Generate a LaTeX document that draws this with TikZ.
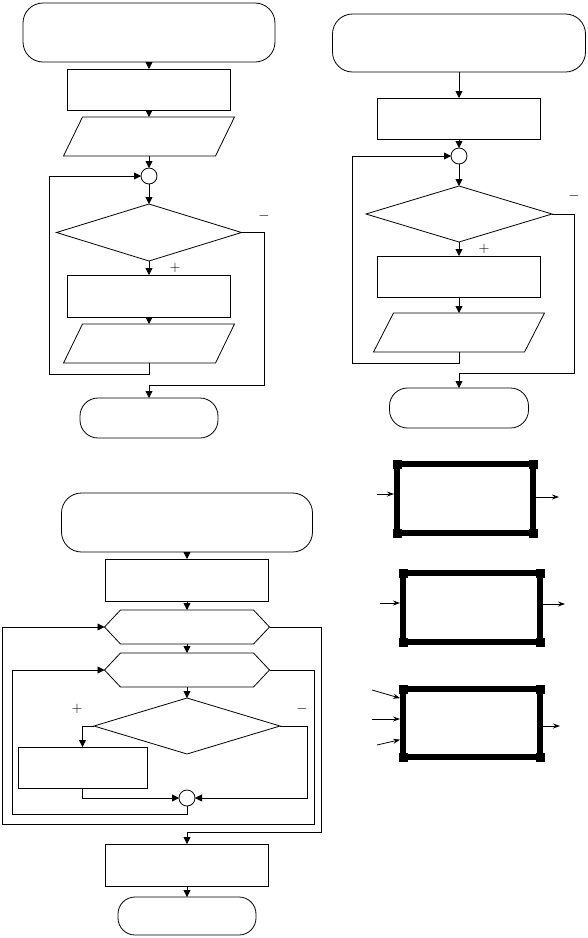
\documentclass[tikz,border=0pt]{standalone}
\usetikzlibrary{arrows.meta,shapes.geometric}
\begin{document}
\begin{tikzpicture}[x=1pt,y=-1pt,
 ln/.style={line width=0.8pt},
 arr/.style={ln,-{Triangle[length=7pt,width=7pt]}},
 sarr/.style={ln,-{Stealth[length=7pt,width=5pt]}},
 box/.style={draw,ln,rectangle,inner sep=0pt,outer sep=0pt},
 term/.style={box,rounded corners=#1},
 term/.default=20pt,
 dia/.style={draw,ln,diamond,inner sep=0pt,outer sep=0pt},
 jn/.style={draw,ln,circle,minimum size=16pt,inner sep=0pt,outer sep=0pt},
 ghost/.style={rectangle,inner sep=0pt,outer sep=0pt},
 thickbox/.style={draw,rectangle,line width=6pt,inner sep=0pt,outer sep=0pt},
 sign/.style={inner sep=0pt,font=\Large}]
\useasboundingbox (0,0) rectangle (587,938);

% ---------- top-left chart ----------
\node[term=20pt, minimum width=252pt, minimum height=59pt] (t1) at (149,32.5) {};
\node[box, minimum width=163pt, minimum height=41pt] (r1) at (149,89.5) {};
\node[ghost, minimum width=152pt, minimum height=39pt] (p1) at (149,136.5) {};
\draw[ln] ([xshift=-9.5pt]p1.south west) -- ([xshift=9.5pt]p1.north west) -- ([xshift=9.5pt]p1.north east) -- ([xshift=-9.5pt]p1.south east) -- cycle;
\node[jn] (c1) at (149,176) {};
\node[dia, minimum width=185pt, minimum height=57pt] (d1) at (149,232.5) {};
\node[box, minimum width=163pt, minimum height=42pt] (r2) at (149,296) {};
\node[ghost, minimum width=152pt, minimum height=39pt] (p2) at (149,343.5) {};
\draw[ln] ([xshift=-9.5pt]p2.south west) -- ([xshift=9.5pt]p2.north west) -- ([xshift=9.5pt]p2.north east) -- ([xshift=-9.5pt]p2.south east) -- cycle;
\node[term=18pt, minimum width=138pt, minimum height=40pt] (t2) at (149,418) {};
\node[sign] (m1) at (264,216) {$-$};
\node[sign] (pl1) at (175,268) {$+$};

\draw[arr] (t1) -- (r1);
\draw[arr] (r1) -- (p1);
\draw[arr] (p1) -- (c1);
\draw[arr] (c1) -- (d1);
\draw[arr] (d1) -- (r2);
\draw[arr] (r2) -- (p2);
\coordinate (lp1) at (49,374);
\draw[arr] (p2.south) |- (lp1) |- (c1.west);
\coordinate (ex1) at (264,385);
\draw[arr] (d1.east) -| (ex1) -| (t2.north);

% ---------- top-right chart ----------
\node[term=20pt, minimum width=253pt, minimum height=58pt] (t3) at (459,43) {};
\node[box, minimum width=163pt, minimum height=41pt] (r3) at (459,118.5) {};
\node[jn] (c2) at (459,156) {};
\node[dia, minimum width=186pt, minimum height=56pt] (d2) at (459,214) {};
\node[box, minimum width=163pt, minimum height=41pt] (r4) at (459,276.5) {};
\node[ghost, minimum width=151pt, minimum height=39pt] (p3) at (459,332.5) {};
\draw[ln] ([xshift=-10pt]p3.south west) -- ([xshift=10pt]p3.north west) -- ([xshift=10pt]p3.north east) -- ([xshift=-10pt]p3.south east) -- cycle;
\node[term=18pt, minimum width=139pt, minimum height=40pt] (t4) at (459,408) {};
\node[sign] (m2) at (574,196) {$-$};
\node[sign] (pl2) at (484,249) {$+$};

\draw[arr] (t3) -- (r3);
\draw[arr] (r3) -- (c2);
\draw[arr] (c2) -- (d2);
\draw[arr] (d2) -- (r4);
\draw[arr] (r4) -- (p3);
\coordinate (lp2) at (352,363);
\draw[arr] (p3.south) |- (lp2) |- (c2.west);
\coordinate (ex2) at (574,373);
\draw[arr] (d2.east) -| (ex2) -| (t4.north);

% ---------- bottom-left chart ----------
\node[term=20pt, minimum width=251pt, minimum height=59pt] (t5) at (187,522.5) {};
\node[box, minimum width=163pt, minimum height=42pt] (r5) at (187,580) {};
\node[ghost, minimum width=165pt, minimum height=34pt] (h1) at (187,627) {};
\draw[ln] (h1.west) -- ([xshift=16pt]h1.north west) -- ([xshift=-16pt]h1.north east) -- (h1.east) -- ([xshift=-16pt]h1.south east) -- ([xshift=16pt]h1.south west) -- cycle;
\node[ghost, minimum width=165pt, minimum height=34pt] (h2) at (187,670) {};
\draw[ln] (h2.west) -- ([xshift=16pt]h2.north west) -- ([xshift=-16pt]h2.north east) -- (h2.east) -- ([xshift=-16pt]h2.south east) -- ([xshift=16pt]h2.south west) -- cycle;
\node[dia, minimum width=186pt, minimum height=56pt] (d3) at (187,726) {};
\node[box, minimum width=129pt, minimum height=41pt] (r6) at (82.5,767.5) {};
\node[jn] (c3) at (187,798) {};
\node[box, minimum width=163pt, minimum height=42pt] (r7) at (187,865) {};
\node[term=17pt, minimum width=138pt, minimum height=38pt] (t6) at (187,916) {};
\node[sign] (pl3) at (77,709) {$+$};
\node[sign] (m3) at (302,709) {$-$};

\draw[arr] (t5) -- (r5);
\draw[arr] (r5) -- (h1);
\draw[arr] (h1) -- (h2);
\draw[arr] (h2) -- (d3);
\draw[arr] (d3.west) -| (r6.north);
\draw[arr] (r6.south) |- (c3.west);
\coordinate (rb) at (307,798);
\draw[arr] (d3.east) -| (rb) -- (c3.east);
\coordinate (il1) at (12,814);
\draw[arr] (c3.south) |- (il1) |- (h2.west);
\coordinate (ol1) at (314,824);
\coordinate (ol2) at (2,824);
\draw[arr] (h2.east) -| (ol1) -- (ol2) |- (h1.west);
\coordinate (ex3) at (321,832);
\draw[arr] (h1.east) -| (ex3) -| (r7.north);
\draw[arr] (r7) -- (t6);

% ---------- right thick boxes ----------
\node[thickbox, minimum width=136pt, minimum height=69pt] (b1) at (465,498.5) {};
\node[thickbox, minimum width=137pt, minimum height=69pt] (b2) at (471.5,607.5) {};
\node[thickbox, minimum width=137pt, minimum height=68pt] (b3) at (471.5,723) {};
\foreach \b in {b1,b2,b3}{
  \foreach \c in {north west,north east,south west,south east}{
    \fill (\b.\c) ++(-4.5pt,-4.5pt) rectangle ++(9pt,9pt);
  }
}
\coordinate (i1) at (377,494);
\draw[sarr, shorten >=3pt] (i1) -- (i1 -| b1.west);
\coordinate (o1) at (559,497);
\draw[sarr, shorten <=3pt] (o1 -| b1.east) -- (o1);

\coordinate (i2) at (380,603);
\draw[sarr, shorten >=3pt] (i2) -- (i2 -| b2.west);
\coordinate (o2) at (565,604);
\draw[sarr, shorten <=3pt] (o2 -| b2.east) -- (o2);

\coordinate (i3a) at (372,690);
\coordinate (e3a) at (403,699);
\draw[sarr, shorten >=3pt] (i3a) -- (e3a);
\coordinate (i3b) at (372,719);
\draw[sarr, shorten >=3pt] (i3b) -- (i3b -| b3.west);
\coordinate (i3c) at (377,745);
\coordinate (e3c) at (403,739);
\draw[sarr, shorten >=3pt] (i3c) -- (e3c);
\coordinate (o3) at (560,726);
\draw[sarr, shorten <=3pt] (o3 -| b3.east) -- (o3);
\end{tikzpicture}
\end{document}
